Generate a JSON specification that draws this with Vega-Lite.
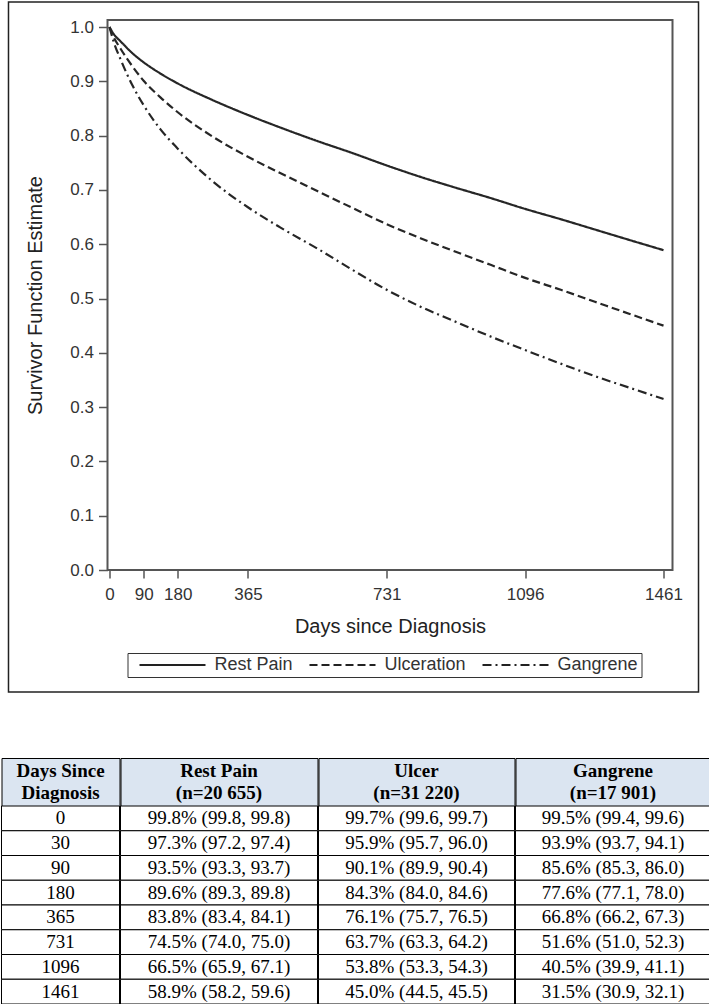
{
  "$schema": "https://vega.github.io/schema/vega-lite/v6.json",
  "padding": {"left": 0.5, "top": 0, "right": 0, "bottom": 0},
  "background": "white",
  "spacing": 63,
  "datasets": {
    "curves": [
      {"group": "Rest Pain", "day": 0, "surv": 1.0},
      {"group": "Rest Pain", "day": 10, "surv": 0.988},
      {"group": "Rest Pain", "day": 30, "surv": 0.973},
      {"group": "Rest Pain", "day": 60, "surv": 0.952},
      {"group": "Rest Pain", "day": 90, "surv": 0.935},
      {"group": "Rest Pain", "day": 135, "surv": 0.914},
      {"group": "Rest Pain", "day": 180, "surv": 0.896},
      {"group": "Rest Pain", "day": 270, "surv": 0.866},
      {"group": "Rest Pain", "day": 365, "surv": 0.838},
      {"group": "Rest Pain", "day": 450, "surv": 0.815},
      {"group": "Rest Pain", "day": 548, "surv": 0.790},
      {"group": "Rest Pain", "day": 640, "surv": 0.768},
      {"group": "Rest Pain", "day": 731, "surv": 0.745},
      {"group": "Rest Pain", "day": 820, "surv": 0.724},
      {"group": "Rest Pain", "day": 913, "surv": 0.704},
      {"group": "Rest Pain", "day": 1005, "surv": 0.685},
      {"group": "Rest Pain", "day": 1096, "surv": 0.665},
      {"group": "Rest Pain", "day": 1190, "surv": 0.646},
      {"group": "Rest Pain", "day": 1280, "surv": 0.627},
      {"group": "Rest Pain", "day": 1370, "surv": 0.608},
      {"group": "Rest Pain", "day": 1461, "surv": 0.589},
      {"group": "Ulceration", "day": 0, "surv": 1.0},
      {"group": "Ulceration", "day": 10, "surv": 0.983},
      {"group": "Ulceration", "day": 30, "surv": 0.959},
      {"group": "Ulceration", "day": 60, "surv": 0.928},
      {"group": "Ulceration", "day": 90, "surv": 0.901},
      {"group": "Ulceration", "day": 135, "surv": 0.870},
      {"group": "Ulceration", "day": 180, "surv": 0.843},
      {"group": "Ulceration", "day": 270, "surv": 0.799},
      {"group": "Ulceration", "day": 365, "surv": 0.761},
      {"group": "Ulceration", "day": 450, "surv": 0.731},
      {"group": "Ulceration", "day": 548, "surv": 0.698},
      {"group": "Ulceration", "day": 640, "surv": 0.667},
      {"group": "Ulceration", "day": 731, "surv": 0.637},
      {"group": "Ulceration", "day": 820, "surv": 0.611},
      {"group": "Ulceration", "day": 913, "surv": 0.586},
      {"group": "Ulceration", "day": 1005, "surv": 0.562},
      {"group": "Ulceration", "day": 1096, "surv": 0.538},
      {"group": "Ulceration", "day": 1190, "surv": 0.516},
      {"group": "Ulceration", "day": 1280, "surv": 0.494},
      {"group": "Ulceration", "day": 1370, "surv": 0.472},
      {"group": "Ulceration", "day": 1461, "surv": 0.450},
      {"group": "Gangrene", "day": 0, "surv": 1.0},
      {"group": "Gangrene", "day": 10, "surv": 0.975},
      {"group": "Gangrene", "day": 30, "surv": 0.939},
      {"group": "Gangrene", "day": 60, "surv": 0.893},
      {"group": "Gangrene", "day": 90, "surv": 0.856},
      {"group": "Gangrene", "day": 135, "surv": 0.811},
      {"group": "Gangrene", "day": 180, "surv": 0.776},
      {"group": "Gangrene", "day": 270, "surv": 0.717},
      {"group": "Gangrene", "day": 365, "surv": 0.668},
      {"group": "Gangrene", "day": 450, "surv": 0.631},
      {"group": "Gangrene", "day": 548, "surv": 0.592},
      {"group": "Gangrene", "day": 640, "surv": 0.553},
      {"group": "Gangrene", "day": 731, "surv": 0.516},
      {"group": "Gangrene", "day": 820, "surv": 0.485},
      {"group": "Gangrene", "day": 913, "surv": 0.457},
      {"group": "Gangrene", "day": 1005, "surv": 0.430},
      {"group": "Gangrene", "day": 1096, "surv": 0.405},
      {"group": "Gangrene", "day": 1190, "surv": 0.380},
      {"group": "Gangrene", "day": 1280, "surv": 0.357},
      {"group": "Gangrene", "day": 1370, "surv": 0.336},
      {"group": "Gangrene", "day": 1461, "surv": 0.315}
    ],
    "head": [
      {"col": "days", "label": ["Days Since", "Diagnosis"]},
      {"col": "rest", "label": ["Rest Pain", "(n=20 655)"]},
      {"col": "ulcer", "label": ["Ulcer", "(n=31 220)"]},
      {"col": "gangrene", "label": ["Gangrene", "(n=17 901)"]}
    ],
    "rows": [
      {"days": "0", "rest": "99.8% (99.8, 99.8)", "ulcer": "99.7% (99.6, 99.7)", "gangrene": "99.5% (99.4, 99.6)"},
      {"days": "30", "rest": "97.3% (97.2, 97.4)", "ulcer": "95.9% (95.7, 96.0)", "gangrene": "93.9% (93.7, 94.1)"},
      {"days": "90", "rest": "93.5% (93.3, 93.7)", "ulcer": "90.1% (89.9, 90.4)", "gangrene": "85.6% (85.3, 86.0)"},
      {"days": "180", "rest": "89.6% (89.3, 89.8)", "ulcer": "84.3% (84.0, 84.6)", "gangrene": "77.6% (77.1, 78.0)"},
      {"days": "365", "rest": "83.8% (83.4, 84.1)", "ulcer": "76.1% (75.7, 76.5)", "gangrene": "66.8% (66.2, 67.3)"},
      {"days": "731", "rest": "74.5% (74.0, 75.0)", "ulcer": "63.7% (63.3, 64.2)", "gangrene": "51.6% (51.0, 52.3)"},
      {"days": "1096", "rest": "66.5% (65.9, 67.1)", "ulcer": "53.8% (53.3, 54.3)", "gangrene": "40.5% (39.9, 41.1)"},
      {"days": "1461", "rest": "58.9% (58.2, 59.6)", "ulcer": "45.0% (44.5, 45.5)", "gangrene": "31.5% (30.9, 32.1)"}
    ]
  },
  "vconcat": [
    {
      "hconcat": [
        {
          "width": 5, "height": 1,
          "data": {"values": []},
          "mark": "point",
          "view": {"stroke": null}
        },
        {
          "width": 565,
          "height": 550,
          "view": {"stroke": "#555555", "strokeWidth": 2},
          "layer": [
            {
              "data": {"values": [{}]},
              "mark": {"type": "rect", "filled": false, "stroke": "#222222", "strokeWidth": 1.5},
              "encoding": {
                "x": {"datum": -266.4, "type": "quantitative"},
                "x2": {"datum": 1553.3},
                "y": {"datum": 1.046, "type": "quantitative"},
                "y2": {"datum": -0.2247}
              }
            },
            {
              "data": {"name": "curves"},
              "mark": {"type": "line", "interpolate": "monotone", "strokeWidth": 2.2, "color": "#262626"},
              "encoding": {
                "x": {
                  "field": "day", "type": "quantitative",
                  "scale": {"domain": [-5.3, 1484.7], "nice": false, "zero": false},
                  "axis": {
                    "values": [0, 90, 180, 365, 731, 1096, 1461],
                    "format": "d",
                    "grid": false, "domain": false,
                    "tickSize": 8, "tickColor": "#555555", "tickWidth": 1.5,
                    "labelFont": "Liberation Sans", "labelFontSize": 17, "labelColor": "#333333",
                    "labelPadding": 8, "labelFlush": false, "labelOverlap": false,
                    "title": "Days since Diagnosis",
                    "titleFont": "Liberation Sans", "titleFontSize": 20, "titleFontWeight": "normal",
                    "titleColor": "#222222", "titlePadding": 14
                  }
                },
                "y": {
                  "field": "surv", "type": "quantitative",
                  "scale": {"domain": [0, 1.0129], "nice": false},
                  "axis": {
                    "values": [0, 0.1, 0.2, 0.3, 0.4, 0.5, 0.6, 0.7, 0.8, 0.9, 1.0],
                    "format": ".1f",
                    "grid": false, "domain": false,
                    "tickSize": 9, "tickColor": "#555555", "tickWidth": 1.5,
                    "labelFont": "Liberation Sans", "labelFontSize": 17, "labelColor": "#333333",
                    "labelPadding": 5, "labelFlush": false, "labelOverlap": false,
                    "title": "Survivor Function Estimate",
                    "titleFont": "Liberation Sans", "titleFontSize": 20, "titleFontWeight": "normal",
                    "titleColor": "#222222", "titlePadding": 24
                  }
                },
                "strokeDash": {
                  "field": "group", "type": "nominal",
                  "scale": {"domain": ["Rest Pain", "Ulceration", "Gangrene"], "range": [[1, 0], [8, 4], [9, 4, 2, 4]]},
                  "legend": {
                    "orient": "none", "legendX": 126, "legendY": 633,
                    "direction": "horizontal", "title": null,
                    "symbolType": "M0,0H12", "symbolSize": 121, "symbolStrokeWidth": 2,
                    "symbolStrokeColor": "#222222", "symbolFillColor": "transparent",
                    "labelFont": "Liberation Sans", "labelFontSize": 18, "labelColor": "#333333",
                    "labelOffset": 66, "columnPadding": 7, "padding": 3,
                    "strokeColor": "#333333"
                  }
                }
              }
            }
          ]
        }
      ],
      "spacing": 0
    },
    {
      "hconcat": [
        {
          "vconcat": [
            {
              "width": 118, "height": 48,
              "data": {"name": "head"},
              "transform": [{"filter": "datum.col === 'days'"}],
              "view": {"fill": "#dbe5f1", "stroke": "black"},
              "mark": {"type": "text", "font": "Liberation Serif", "fontSize": 19, "fontWeight": "bold", "lineHeight": 22, "dy": -11, "color": "black"},
              "encoding": {"text": {"field": "label"}}
            },
            {
              "width": 118, "height": 198,
              "data": {"name": "rows"},
              "view": {"stroke": null},
              "encoding": {"y": {"field": "days", "type": "ordinal", "sort": null, "axis": null, "scale": {"paddingInner": 0, "paddingOuter": 0}}},
              "layer": [
                {"mark": {"type": "rect", "fill": "white", "stroke": "black", "strokeWidth": 1}},
                {"mark": {"type": "text", "font": "Liberation Serif", "fontSize": 19, "color": "black"}, "encoding": {"text": {"field": "days"}}}
              ]
            }
          ],
          "spacing": 0, "bounds": "flush"
        },
        {
          "vconcat": [
            {
              "width": 197, "height": 48,
              "data": {"name": "head"},
              "transform": [{"filter": "datum.col === 'rest'"}],
              "view": {"fill": "#dbe5f1", "stroke": "black"},
              "mark": {"type": "text", "font": "Liberation Serif", "fontSize": 19, "fontWeight": "bold", "lineHeight": 22, "dy": -11, "color": "black"},
              "encoding": {"text": {"field": "label"}}
            },
            {
              "width": 197, "height": 198,
              "data": {"name": "rows"},
              "view": {"stroke": null},
              "encoding": {"y": {"field": "days", "type": "ordinal", "sort": null, "axis": null, "scale": {"paddingInner": 0, "paddingOuter": 0}}},
              "layer": [
                {"mark": {"type": "rect", "fill": "white", "stroke": "black", "strokeWidth": 1}},
                {"mark": {"type": "text", "font": "Liberation Serif", "fontSize": 19, "color": "black"}, "encoding": {"text": {"field": "rest"}}}
              ]
            }
          ],
          "spacing": 0, "bounds": "flush"
        },
        {
          "vconcat": [
            {
              "width": 196, "height": 48,
              "data": {"name": "head"},
              "transform": [{"filter": "datum.col === 'ulcer'"}],
              "view": {"fill": "#dbe5f1", "stroke": "black"},
              "mark": {"type": "text", "font": "Liberation Serif", "fontSize": 19, "fontWeight": "bold", "lineHeight": 22, "dy": -11, "color": "black"},
              "encoding": {"text": {"field": "label"}}
            },
            {
              "width": 196, "height": 198,
              "data": {"name": "rows"},
              "view": {"stroke": null},
              "encoding": {"y": {"field": "days", "type": "ordinal", "sort": null, "axis": null, "scale": {"paddingInner": 0, "paddingOuter": 0}}},
              "layer": [
                {"mark": {"type": "rect", "fill": "white", "stroke": "black", "strokeWidth": 1}},
                {"mark": {"type": "text", "font": "Liberation Serif", "fontSize": 19, "color": "black"}, "encoding": {"text": {"field": "ulcer"}}}
              ]
            }
          ],
          "spacing": 0, "bounds": "flush"
        },
        {
          "vconcat": [
            {
              "width": 195, "height": 48,
              "data": {"name": "head"},
              "transform": [{"filter": "datum.col === 'gangrene'"}],
              "view": {"fill": "#dbe5f1", "stroke": "black"},
              "mark": {"type": "text", "font": "Liberation Serif", "fontSize": 19, "fontWeight": "bold", "lineHeight": 22, "dy": -11, "color": "black"},
              "encoding": {"text": {"field": "label"}}
            },
            {
              "width": 195, "height": 198,
              "data": {"name": "rows"},
              "view": {"stroke": null},
              "encoding": {"y": {"field": "days", "type": "ordinal", "sort": null, "axis": null, "scale": {"paddingInner": 0, "paddingOuter": 0}}},
              "layer": [
                {"mark": {"type": "rect", "fill": "white", "stroke": "black", "strokeWidth": 1}},
                {"mark": {"type": "text", "font": "Liberation Serif", "fontSize": 19, "color": "black"}, "encoding": {"text": {"field": "gangrene"}}}
              ]
            }
          ],
          "spacing": 0, "bounds": "flush"
        }
      ],
      "spacing": -1
    }
  ],
  "config": {
    "font": "Liberation Sans"
  }
}
